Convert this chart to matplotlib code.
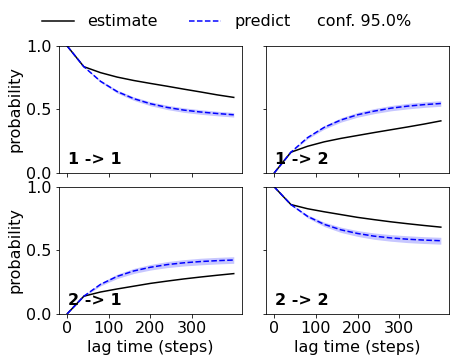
import numpy as np
import matplotlib
matplotlib.use("Agg")
import matplotlib.pyplot as plt

lag_steps = [0, 40, 80, 120, 160, 200, 240, 280, 320, 360, 400]

est_11 = [1.0, 0.837, 0.79, 0.755, 0.728, 0.705, 0.683, 0.66, 0.638, 0.615, 0.595]
est_12 = [0.0, 0.163, 0.21, 0.245, 0.272, 0.295, 0.318, 0.34, 0.362, 0.385, 0.41]
est_21 = [0.0, 0.139, 0.172, 0.196, 0.218, 0.24, 0.258, 0.275, 0.29, 0.304, 0.317]
est_22 = [1.0, 0.861, 0.828, 0.804, 0.782, 0.76, 0.742, 0.725, 0.71, 0.696, 0.683]

pred_11 = [1.0, 0.837, 0.722, 0.641, 0.585, 0.545, 0.516, 0.495, 0.48, 0.468, 0.458]
pred_12 = [0.0, 0.163, 0.278, 0.359, 0.417, 0.458, 0.487, 0.51, 0.526, 0.538, 0.547]
pred_21 = [0.0, 0.139, 0.232, 0.295, 0.338, 0.367, 0.388, 0.402, 0.412, 0.419, 0.424]
pred_22 = [1.0, 0.861, 0.768, 0.705, 0.662, 0.633, 0.612, 0.598, 0.588, 0.581, 0.576]

# half width of the 95% confidence band
conf_11 = [0.0, 0.003, 0.008, 0.012, 0.014, 0.016, 0.017, 0.018, 0.018, 0.018, 0.018]
conf_12 = [0.0, 0.004, 0.01, 0.014, 0.017, 0.019, 0.02, 0.021, 0.022, 0.022, 0.022]
conf_21 = [0.0, 0.005, 0.012, 0.017, 0.02, 0.022, 0.024, 0.025, 0.026, 0.026, 0.026]
conf_22 = [0.0, 0.005, 0.012, 0.017, 0.021, 0.023, 0.025, 0.026, 0.027, 0.027, 0.027]

panels = [
    ("1 -> 1", est_11, pred_11, conf_11),
    ("1 -> 2", est_12, pred_12, conf_12),
    ("2 -> 1", est_21, pred_21, conf_21),
    ("2 -> 2", est_22, pred_22, conf_22),
]

plt.rcParams["font.size"] = 16
plt.rcParams["font.family"] = "DejaVu Sans"

fig, axes = plt.subplots(2, 2, sharex=True, sharey=True, figsize=(456 / 72, 362 / 72), dpi=72)
fig.subplots_adjust(left=0.129, right=0.985, top=0.873, bottom=0.133, wspace=0.13, hspace=0.11)

x = np.array(lag_steps)
for ax, (title, est, pred, conf) in zip(axes.flat, panels):
    est = np.array(est)
    pred = np.array(pred)
    conf = np.array(conf)
    l1, = ax.plot(x, est, color="black", lw=1.5)
    l2, = ax.plot(x, pred, color="blue", ls="--", lw=1.5)
    ax.fill_between(x, pred - conf, pred + conf, color="blue", alpha=0.22, lw=0)
    ax.text(0.05, 0.05, title, transform=ax.transAxes, fontweight="bold", va="bottom")

axes[0, 0].set_ylim(0, 1)
axes[0, 0].set_yticks([0.0, 0.5, 1.0])
axes[0, 0].set_xticks([0, 100, 200, 300])
for ax in axes[:, 0]:
    ax.set_ylabel("probability")
for ax in axes[1, :]:
    ax.set_xlabel("lag time (steps)")

fig.legend([l1, l2], ["estimate", "predict"], ncol=2, frameon=False,
           loc="center left", bbox_to_anchor=(0.078, 0.94), borderaxespad=0)
fig.text(0.695, 0.94, "conf. 95.0%", va="center", ha="left")

fig.savefig("out.png", dpi=72)
